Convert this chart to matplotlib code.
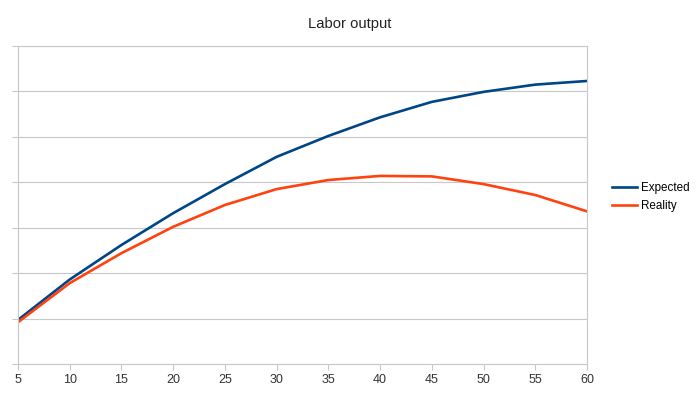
import matplotlib.pyplot as plt

plt.rcParams["font.family"] = ["Liberation Sans", "DejaVu Sans"]

years = [5, 10, 15, 20, 25, 30, 35, 40, 45, 50, 55, 60]
expected = [9.7, 18.6, 26.2, 33.2, 39.6, 45.6, 50.2, 54.3, 57.7, 59.9, 61.5, 62.3]
reality = [9.2, 17.8, 24.4, 30.2, 35.0, 38.5, 40.5, 41.4, 41.3, 39.6, 37.2, 33.6]

fig = plt.figure(figsize=(6.99, 3.93), dpi=100)
ax = fig.add_axes([18 / 699, 1 - 364 / 393, 569 / 699, 318 / 393])

ax.plot(years, expected, color="#004586", lw=1.9, label="Expected")
ax.plot(years, reality, color="#ff420e", lw=1.9, label="Reality")

ax.set_xlim(5, 60)
ax.set_ylim(0, 70)
ax.set_xticks(years)
ax.set_yticks(range(0, 71, 10))
ax.set_yticklabels([])
ax.grid(axis="y", color="#c8c8c8", lw=0.8)
ax.set_axisbelow(True)
for s in ax.spines.values():
    s.set_color("#c8c8c8")
ax.tick_params(axis="both", colors="#c8c8c8", length=4, width=0.8, labelcolor="#333333", labelsize=9)

fig.text(0.5, 1 - 24 / 393, "Labor output", ha="center", va="center", fontsize=10.6, color="#222222")
fig.legend(loc="center left", bbox_to_anchor=(601 / 699, 1 - 197 / 393), frameon=False,
           fontsize=8.4, handlelength=2.2, handletextpad=0.3, labelspacing=0.45)

fig.savefig("out.png", dpi=100)
